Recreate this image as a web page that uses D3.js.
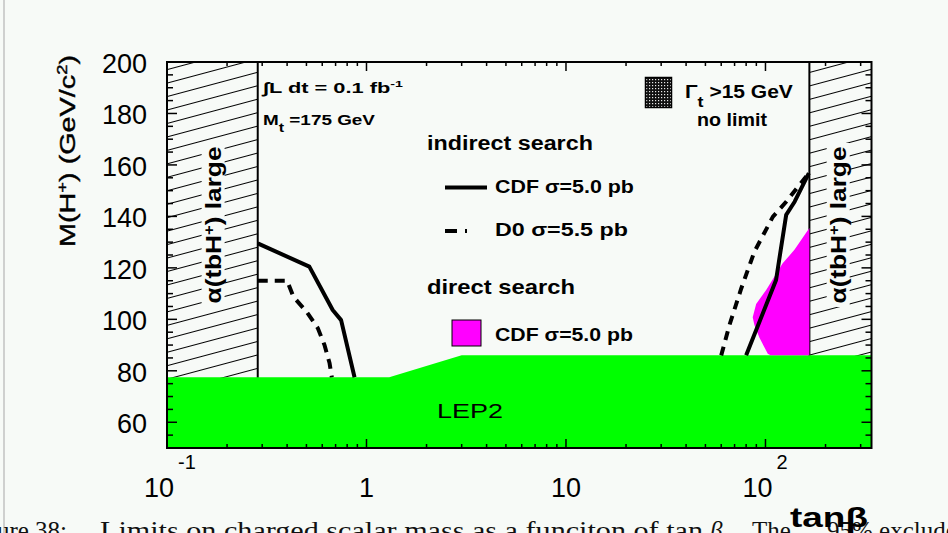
<!DOCTYPE html>
<html><head><meta charset="utf-8">
<script src="https://cdn.jsdelivr.net/npm/d3@7"></script>
<style>
html,body{margin:0;padding:0;background:#f7faf7;overflow:hidden;}
svg{display:block;}
</style></head><body>
<svg id="chart" width="948" height="533"></svg>
<script>
// ---------------- data ----------------
const xDomain = [0.1, 340];
const yDomain = [50, 200];
const xTickValues = [0.1, 1, 10, 100];
const xTickMain = ["10", "1", "10", "10"];
const xTickSup = ["-1", "", "", "2"];
const yTickValues = [60, 80, 100, 120, 140, 160, 180, 200];
const lep2Tanb = [0.1, 0.1, 1.3, 3.0, 340, 340];
const lep2Mass = [50, 77.5, 77.5, 86, 86, 50];
const cdfLeftTanb = [0.285, 0.517, 0.677, 0.746, 0.871];
const cdfLeftMass = [129.5, 120.5, 103.6, 99.7, 77.5];
const d0LeftTanb = [0.285, 0.40, 0.43, 0.50, 0.57, 0.616, 0.653, 0.67];
const d0LeftMass = [115, 115, 108.8, 103, 96.6, 90, 83, 77.5];
const cdfRightTanb = [80, 113, 127, 140, 165];
const cdfRightMass = [86, 115.3, 140.6, 145.7, 156.8];
const d0RightTanb = [60, 66, 75.6, 88, 109, 127, 165];
const d0RightMass = [86, 97.8, 112, 126.3, 139.9, 145.7, 156.8];
const directTanb = [106, 102.7, 93.3, 88, 86.3, 89.8, 100.8, 122, 139.7, 166, 166];
const directMass = [86, 86.6, 92.8, 97.8, 100.8, 106, 111.4, 121.8, 127, 135.5, 86];
const alphaLargeLow = 0.285;   // tanβ below which α(tbH+) is large
const alphaLargeHigh = 166;    // tanβ above which α(tbH+) is large

// ---------------- layout ----------------
const svg = d3.select("#chart");
const BG = "#f7faf7";
const sans = "'Liberation Sans', Arial, sans-serif";
const serif = "'Liberation Serif', 'Times New Roman', serif";
const x = d3.scaleLog().domain(xDomain).range([167, 871.5]);
const y = d3.scaleLinear().domain(yDomain).range([448, 62]);
const X0 = x.range()[0], X1 = x.range()[1], Y0 = y.range()[1], Y1 = y.range()[0];

// horizontally scale a text (inside group g placed with base transform) to a target width
function fitScale(g, t, base, w) {
  const L = t.node().getComputedTextLength();
  g.attr("transform", `${base} scale(${(w / L).toFixed(4)},1)`);
}

// page border line
svg.append("line").attr("x1", 4).attr("x2", 4).attr("y1", 0).attr("y2", 533)
  .attr("stroke", "#b4b4b4").attr("stroke-width", 1.2);

const defs = svg.append("defs");
const hatch = defs.append("pattern").attr("id", "hatch")
  .attr("patternUnits", "userSpaceOnUse").attr("width", 24).attr("height", 13)
  .attr("patternTransform", "rotate(-15)");
hatch.append("line").attr("x1", 0).attr("x2", 24).attr("y1", 6.5).attr("y2", 6.5)
  .attr("stroke", "#000").attr("stroke-width", 1);
const dots = defs.append("pattern").attr("id", "dots")
  .attr("patternUnits", "userSpaceOnUse").attr("width", 3).attr("height", 3);
dots.append("rect").attr("width", 3).attr("height", 3).attr("fill", "#111");
dots.append("rect").attr("x", 1).attr("y", 1).attr("width", 1.2).attr("height", 1.2).attr("fill", "#e8e8e8");
defs.append("clipPath").attr("id", "plotclip").append("rect")
  .attr("x", X0).attr("y", Y0).attr("width", X1 - X0).attr("height", Y1 - Y0);

const plot = svg.append("g").attr("clip-path", "url(#plotclip)");

// hatched regions
const regions = [[xDomain[0], alphaLargeLow], [alphaLargeHigh, xDomain[1]]];
regions.forEach(r => {
  plot.append("rect").attr("x", x(r[0])).attr("y", Y0)
    .attr("width", x(r[1]) - x(r[0])).attr("height", Y1 - Y0)
    .attr("fill", "url(#hatch)");
});

// boundary lines
[alphaLargeLow, alphaLargeHigh].forEach(v => {
  plot.append("line").attr("x1", x(v)).attr("x2", x(v)).attr("y1", Y0).attr("y2", Y1)
    .attr("stroke", "#000").attr("stroke-width", 2);
});

// α(tbH+) large labels
function alphaLabel(cx, cy) {
  const base = `translate(${cx},${cy}) rotate(-90)`;
  const g = svg.append("g").attr("transform", base);
  const bg = g.append("rect").attr("fill", BG);
  const t = g.append("text").attr("text-anchor", "middle").attr("dy", "0.35em")
    .attr("font-family", sans).attr("font-size", 22).attr("font-weight", "bold").attr("fill", "#000");
  t.append("tspan").text("α(tbH");
  t.append("tspan").attr("baseline-shift", "super").attr("font-size", 14).text("+");
  t.append("tspan").text(")  large");
  fitScale(g, t, base, 157);
  const b = t.node().getBBox();
  bg.attr("x", b.x - 3).attr("y", b.y + 1).attr("width", b.width + 6).attr("height", b.height - 2);
}
alphaLabel((x(xDomain[0]) + x(alphaLargeLow)) / 2 + 1, 225);
alphaLabel((x(alphaLargeHigh) + x(xDomain[1])) / 2 - 2, 225);

// LEP2 region
const area = (xs, ys) => d3.line().x((d, i) => x(xs[i])).y((d, i) => y(ys[i]))(xs) + "Z";
plot.append("path").attr("d", area(lep2Tanb, lep2Mass)).attr("fill", "#00ff00");
// direct search (magenta)
plot.append("path").attr("d", area(directTanb, directMass)).attr("fill", "#ff00ff");

// curves
const line = (xs, ys) => d3.line().x((d, i) => x(xs[i])).y((d, i) => y(ys[i]))(xs);
plot.append("path").attr("d", line(cdfLeftTanb, cdfLeftMass)).attr("fill", "none")
  .attr("stroke", "#000").attr("stroke-width", 4).attr("stroke-linejoin", "round");
plot.append("path").attr("d", line(d0LeftTanb, d0LeftMass)).attr("fill", "none")
  .attr("stroke", "#000").attr("stroke-width", 4).attr("stroke-dasharray", "10,7");
plot.append("path").attr("d", line(cdfRightTanb, cdfRightMass)).attr("fill", "none")
  .attr("stroke", "#000").attr("stroke-width", 4).attr("stroke-linejoin", "round");
plot.append("path").attr("d", line(d0RightTanb, d0RightMass)).attr("fill", "none")
  .attr("stroke", "#000").attr("stroke-width", 4).attr("stroke-dasharray", "9,7");

// frame
svg.append("rect").attr("x", X0).attr("y", Y0).attr("width", X1 - X0).attr("height", Y1 - Y0)
  .attr("fill", "none").attr("stroke", "#000").attr("stroke-width", 2);

// x ticks (inside, bottom & top)
const xMinor = [];
for (let d = 0.1; d < 1000; d *= 10) for (let k = 1; k < 10; k++) {
  const v = +(d * k).toPrecision(3);
  if (v > xDomain[0] && v < xDomain[1]) xMinor.push(v);
}
xMinor.forEach(v => {
  const major = xTickValues.includes(v);
  const L = major ? 9 : 4;
  svg.append("line").attr("x1", x(v)).attr("x2", x(v)).attr("y1", Y1).attr("y2", Y1 - L)
    .attr("stroke", "#000").attr("stroke-width", 1.5);
  svg.append("line").attr("x1", x(v)).attr("x2", x(v)).attr("y1", Y0).attr("y2", Y0 + L)
    .attr("stroke", "#000").attr("stroke-width", 1.5);
});
// y ticks
for (let v = 55; v < 200; v += 5) {
  const major = v % 20 === 0;
  const L = major ? 10 : 6;
  svg.append("line").attr("x1", X0).attr("x2", X0 + L).attr("y1", y(v)).attr("y2", y(v))
    .attr("stroke", "#000").attr("stroke-width", 1.5);
  svg.append("line").attr("x1", X1).attr("x2", X1 - L).attr("y1", y(v)).attr("y2", y(v))
    .attr("stroke", "#000").attr("stroke-width", 1.5);
}

// y tick labels
yTickValues.forEach(v => {
  svg.append("text").attr("x", 147).attr("y", y(v) + 1).attr("dy", "0.36em")
    .attr("text-anchor", "end").attr("font-family", sans).attr("font-size", 27)
    .attr("fill", "#000").text(v);
});
// x tick labels
xTickValues.forEach((v, i) => {
  const sup = xTickSup[i];
  const cx = x(v) + (sup ? -8 : 0);
  const t = svg.append("text").attr("x", cx).attr("y", 497).attr("text-anchor", "middle")
    .attr("font-family", sans).attr("font-size", 27).attr("fill", "#000").text(xTickMain[i]);
  if (sup) {
    const w = t.node().getComputedTextLength();
    svg.append("text").attr("x", cx + w / 2 + 4).attr("y", 469)
      .attr("font-family", sans).attr("font-size", 20).attr("fill", "#000").text(sup);
  }
});

// y axis title
{
  const base = "translate(67,151) rotate(-90)";
  const g = svg.append("g").attr("transform", base);
  const yt = g.append("text").attr("text-anchor", "middle").attr("dy", "0.35em")
    .attr("font-family", sans).attr("font-size", 22).attr("fill", "#000")
    .attr("stroke", "#000").attr("stroke-width", 0.4);
  yt.append("tspan").text("M(H");
  yt.append("tspan").attr("baseline-shift", "super").attr("font-size", 14).text("+");
  yt.append("tspan").text(")  (GeV/c");
  yt.append("tspan").attr("baseline-shift", "super").attr("font-size", 14).text("2");
  yt.append("tspan").text(")");
  fitScale(g, yt, base, 192);
}

// caption (partially visible, under the chart)
svg.append("text").attr("x", 67).attr("y", 539).attr("text-anchor", "end")
  .attr("font-family", serif).attr("font-size", 25).attr("fill", "#111").text("ure 38:");
svg.append("text").attr("x", 100).attr("y", 539).attr("textLength", 603).attr("lengthAdjust", "spacingAndGlyphs")
  .attr("font-family", serif).attr("font-size", 25).attr("fill", "#111")
  .text("Limits on charged scalar mass as a funciton of tan");
svg.append("text").attr("x", 710).attr("y", 539).attr("font-style", "italic")
  .attr("font-family", serif).attr("font-size", 25).attr("fill", "#111").text("β.");
svg.append("text").attr("x", 752).attr("y", 539)
  .attr("font-family", serif).attr("font-size", 25).attr("fill", "#111").text("The");
svg.append("text").attr("x", 827).attr("y", 539)
  .attr("font-family", serif).attr("font-size", 25).attr("fill", "#111").text("95% excluded");

// x axis title
{
  const base = "translate(790,527)";
  const g = svg.append("g").attr("transform", base);
  const t = g.append("text").attr("font-family", sans).attr("font-size", 27)
    .attr("font-weight", "bold").attr("fill", "#000").text("tanβ");
  fitScale(g, t, base, 78);
}

// ---------------- in-plot annotations ----------------
function label(px, py, size, parts, width, weight) {
  const base = `translate(${px},${py})`;
  const g = svg.append("g").attr("transform", base);
  const t = g.append("text")
    .attr("font-family", sans).attr("font-size", size).attr("font-weight", weight || "bold").attr("fill", "#000");
  parts.forEach(p => {
    const s = t.append("tspan").text(p[0]);
    if (p[1] === "sup") s.attr("baseline-shift", "super").attr("font-size", size * 0.65);
    if (p[1] === "sub") s.attr("baseline-shift", "sub").attr("font-size", size * 0.85);
  });
  if (width) fitScale(g, t, base, width);
  return t;
}
label(263, 93, 15, [["∫L dt = 0.1 fb"], ["-1", "sup"]], 140);
label(263, 125, 15, [["M"], ["t", "sub"], [" =175 GeV"]], 112);
label(427, 150, 20, [["indirect search"]], 166);
// solid legend
svg.append("line").attr("x1", 445).attr("x2", 487).attr("y1", 187.5).attr("y2", 187.5)
  .attr("stroke", "#000").attr("stroke-width", 4);
label(495, 193, 19, [["CDF σ=5.0 pb"]], 139);
// dashed legend
svg.append("line").attr("x1", 445).attr("x2", 490).attr("y1", 231).attr("y2", 231)
  .attr("stroke", "#000").attr("stroke-width", 4).attr("stroke-dasharray", "12,8,2,30");
label(495, 236, 19, [["D0  σ=5.5 pb"]], 133);
label(427, 294, 20, [["direct search"]], 148);
svg.append("rect").attr("x", 452).attr("y", 320).attr("width", 29).attr("height", 26)
  .attr("fill", "#ff00ff").attr("stroke", "#000").attr("stroke-width", 1);
label(495, 341, 19, [["CDF σ=5.0 pb"]], 138);
// top right legend
svg.append("rect").attr("x", 645.5).attr("y", 77.5).attr("width", 26).attr("height", 30)
  .attr("fill", "url(#dots)").attr("stroke", "#000").attr("stroke-width", 1.5);
label(685, 98, 18, [["Γ"], ["t", "sub"], [" >15 GeV"]], 108);
label(697, 126, 18, [["no limit"]], 70);
// LEP2
label(437, 418, 21, [["LEP2"]], 66, "normal");
</script>
</body></html>
